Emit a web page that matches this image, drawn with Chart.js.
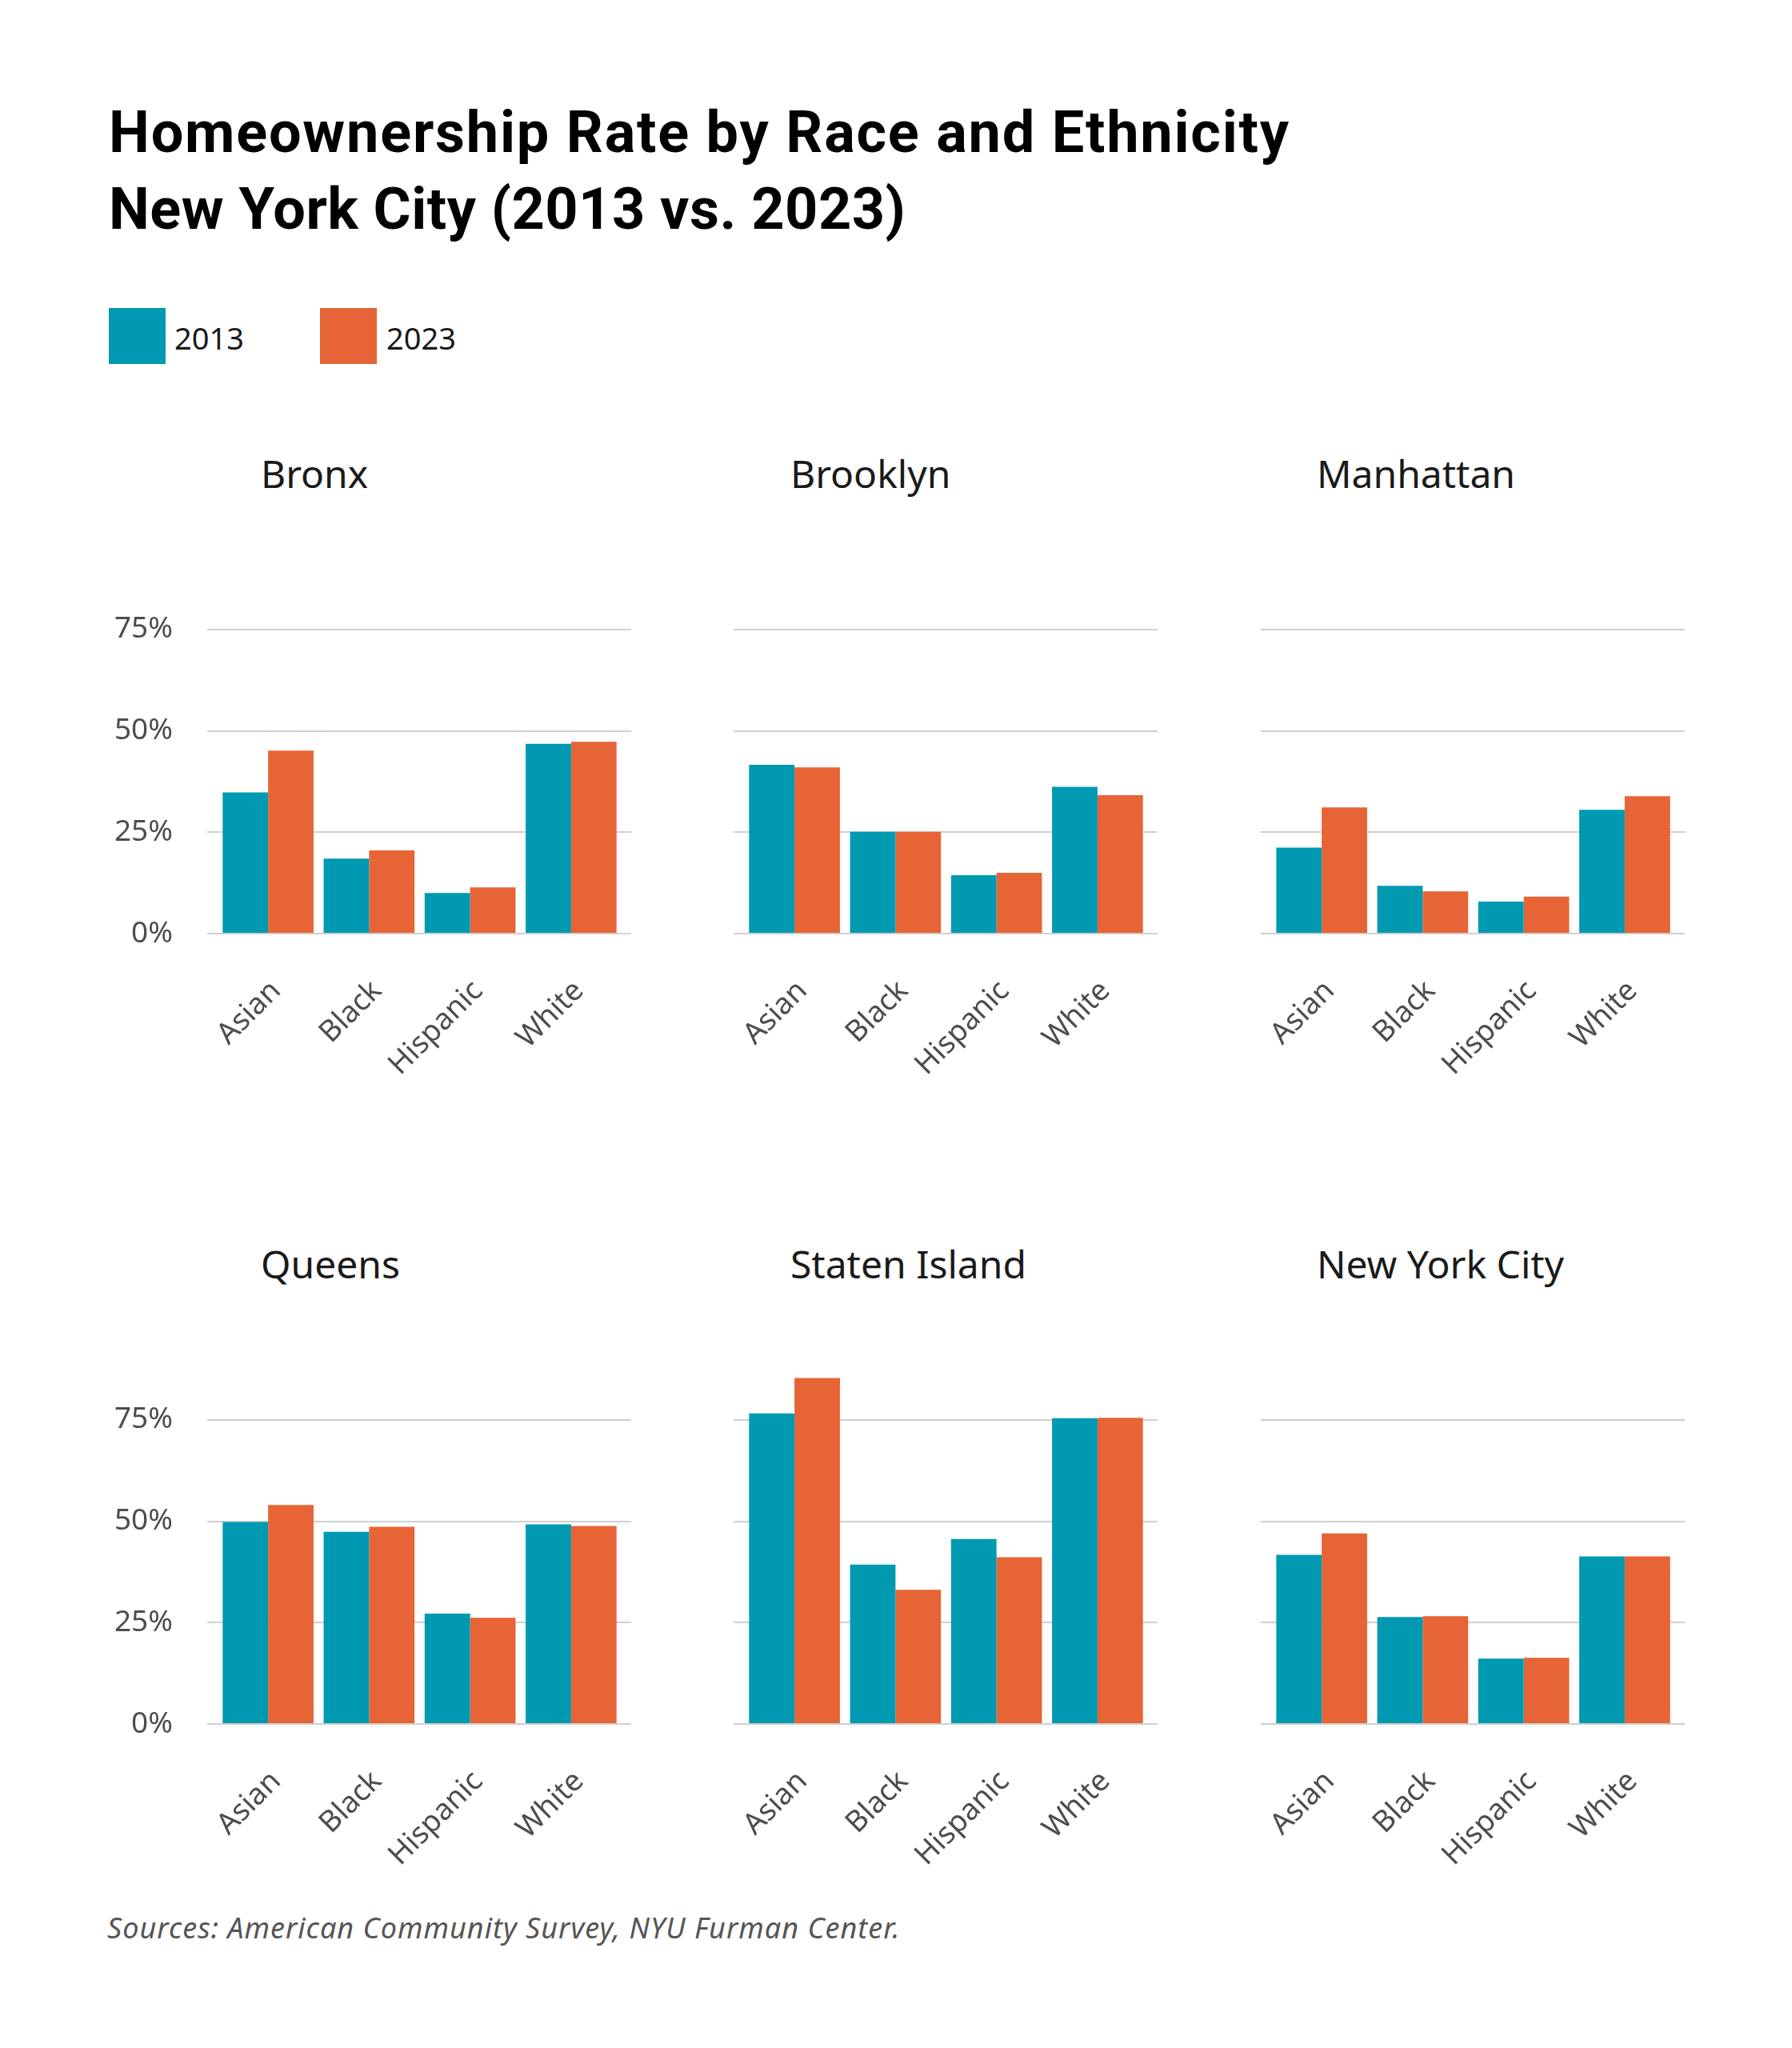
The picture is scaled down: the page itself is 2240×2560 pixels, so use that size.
<!DOCTYPE html>
<html>
<head>
<meta charset="utf-8">
<script src="https://cdn.jsdelivr.net/npm/chart.js@4.4.1/dist/chart.umd.min.js"></script>
<style>
  body { margin: 0; background: #fff; }
  #page { position: relative; width: 2240px; height: 2560px; background: #fff; overflow: hidden; font-family: 'Noto Sans', sans-serif; }
  .abs { position: absolute; white-space: nowrap; }
  #title { left: 136px; top: 118px; font-family: Roboto, sans-serif; font-weight: 700; font-size: 72px; letter-spacing: 1.8px; line-height: 96px; color: #000; }
  #title .sub { letter-spacing: 0.5px; }
  .swatch { position: absolute; top: 385px; width: 71px; height: 70px; }
  .legend-text { top: 403px; font-size: 38px; line-height: 1; color: #1a1a1a; }
  .panel-title { font-size: 48px; line-height: 1; color: #1a1a1a; }
  #source { left: 134px; top: 2392px; font-size: 36px; letter-spacing: 1px; line-height: 1; font-style: italic; color: #555; }
  canvas { position: absolute; }
</style>
</head>
<body>
<div id="page">
  <div id="title" class="abs">Homeownership Rate by Race and Ethnicity<br><span class="sub">New York City (2013 vs. 2023)</span></div>
  <div class="swatch" style="left:136px;background:#0099b2"></div>
  <div class="abs legend-text" style="left:218px">2013</div>
  <div class="swatch" style="left:400px;background:#e66435"></div>
  <div class="abs legend-text" style="left:483px">2023</div>
  <div id="source" class="abs">Sources: American Community Survey, NYU Furman Center.</div>
</div>

<script>
const categories = ['Asian', 'Black', 'Hispanic', 'White'];
const years = ['2013', '2023'];
const yTicks = [0, 25, 50, 75];

// homeownership rate, %
const bronx2013 = [34.8, 18.5, 10.0, 46.8];
const bronx2023 = [45.1, 20.5, 11.4, 47.3];
const brooklyn2013 = [41.6, 25.1, 14.4, 36.2];
const brooklyn2023 = [41.0, 25.1, 15.0, 34.1];
const manhattan2013 = [21.2, 11.8, 7.9, 30.5];
const manhattan2023 = [31.1, 10.4, 9.1, 33.9];
const queens2013 = [49.8, 47.4, 27.2, 49.2];
const queens2023 = [54.0, 48.6, 26.2, 48.8];
const staten2013 = [76.6, 39.3, 45.6, 75.4];
const staten2023 = [85.3, 33.1, 41.1, 75.5];
const nyc2013 = [41.7, 26.4, 16.1, 41.3];
const nyc2023 = [47.0, 26.6, 16.3, 41.3];

const TEAL = '#0099b2';
const ORANGE = '#e66435';
const GRID = '#d0d0d0';

const panels = [
  { name: 'Bronx', d13: bronx2013, d23: bronx2023 },
  { name: 'Brooklyn', d13: brooklyn2013, d23: brooklyn2023 },
  { name: 'Manhattan', d13: manhattan2013, d23: manhattan2023 },
  { name: 'Queens', d13: queens2013, d23: queens2023 },
  { name: 'Staten Island', d13: staten2013, d23: staten2023 },
  { name: 'New York City', d13: nyc2013, d23: nyc2023 },
];

// plot area placement
const colLeft = [272, 930, 1589];
const rowTop = [660, 1648];
const plotW = 505, plotH = 507;
const yAxisW = 150, y2AxisW = 40, padTop = 80, xAxisH = 250;
const titleLeft = [326, 988, 1646];
const titleTop = [568, 1556];

const page = document.getElementById('page');

function useTicks(axis) {
  axis.ticks = yTicks.map(v => ({ value: v }));
}

panels.forEach((p, i) => {
  const col = i % 3, row = Math.floor(i / 3);
  const showY = col === 0;

  const t = document.createElement('div');
  t.className = 'abs panel-title';
  t.style.left = titleLeft[col] + 'px';
  t.style.top = titleTop[row] + 'px';
  t.textContent = p.name;
  page.appendChild(t);

  const canvas = document.createElement('canvas');
  canvas.width = yAxisW + plotW + y2AxisW;
  canvas.height = padTop + plotH + xAxisH;
  canvas.style.left = (colLeft[col] - yAxisW) + 'px';
  canvas.style.top = (rowTop[row] - padTop) + 'px';
  page.appendChild(canvas);

  new Chart(canvas, {
    type: 'bar',
    data: {
      labels: categories,
      datasets: [
        { label: years[0], data: p.d13, backgroundColor: TEAL },
        { label: years[1], data: p.d23, backgroundColor: ORANGE },
      ]
    },
    options: {
      responsive: false,
      animation: false,
      devicePixelRatio: 1,
      layout: { padding: { top: padTop, left: 0, right: 0, bottom: 0 } },
      datasets: { bar: { categoryPercentage: 0.9, barPercentage: 1.0, borderWidth: 0 } },
      plugins: { legend: { display: false }, tooltip: { enabled: false } },
      scales: {
        x: {
          grid: { display: false, drawTicks: false },
          border: { display: false },
          ticks: {
            autoSkip: false, minRotation: 45, maxRotation: 45, padding: 50, labelOffset: 10,
            color: '#4d4d4d', font: { family: 'Noto Sans', size: 37 }
          },
          afterFit: s => { s.height = xAxisH; }
        },
        y: {
          min: 0, max: 100,
          afterBuildTicks: useTicks,
          grid: { color: GRID, lineWidth: 2, drawTicks: true, tickLength: 13 },
          border: { display: false },
          ticks: {
            display: showY, padding: 43, color: '#4d4d4d',
            font: { family: 'Noto Sans', size: 37 },
            callback: v => v + '%'
          },
          afterFit: s => { s.width = yAxisW; }
        },
        y2: {
          position: 'right',
          min: 0, max: 100,
          afterBuildTicks: useTicks,
          grid: { color: GRID, lineWidth: 2, drawOnChartArea: false, drawTicks: true, tickLength: 12 },
          border: { display: false },
          ticks: { display: false },
          afterFit: s => { s.width = y2AxisW; }
        }
      }
    }
  });
});
</script>
</body>
</html>
